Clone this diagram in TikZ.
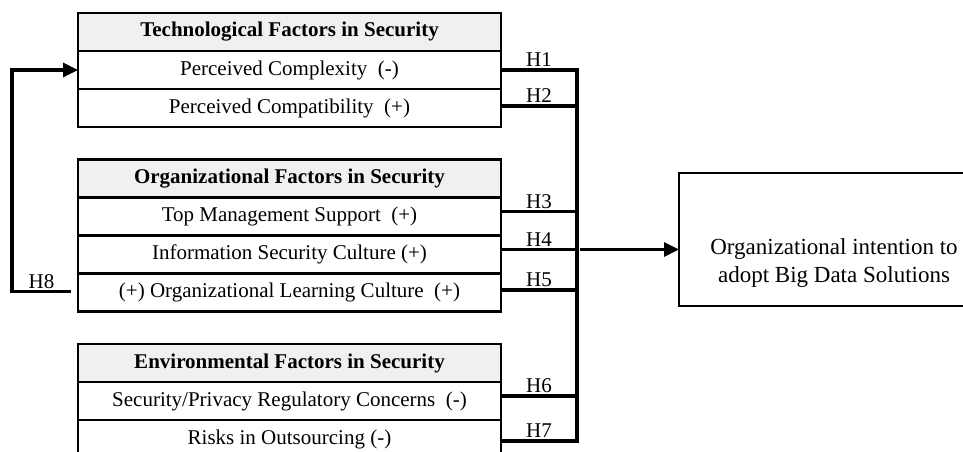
\documentclass[tikz,border=0pt]{standalone}
\usepackage{fontspec}
\setmainfont{Liberation Serif}
\usetikzlibrary{arrows.meta,positioning,calc}

\begin{document}
\begin{tikzpicture}[
  x=1pt, y=-1pt,
  every node/.style={font=\fontsize{21}{28}\selectfont},
  grouphead/.style={draw, line width=2.4pt, fill=gray!12, minimum width=423pt, minimum height=38pt, inner sep=0pt, outer sep=0pt, font=\fontsize{21}{28}\selectfont\bfseries},
  factor/.style={draw, line width=2.4pt, minimum width=423pt, minimum height=38pt, inner sep=0pt, outer sep=0pt},
  goalbox/.style={draw, line width=2.4pt, minimum width=310pt, minimum height=133pt, outer sep=0pt},
  hyp/.style={above, inner sep=1.5pt},
  wire/.style={line width=3.1pt},
  arr/.style={-{Triangle[length=15pt,width=14pt]}, line width=3.1pt}
]
\useasboundingbox (0,0) rectangle (963,452);

\node[grouphead, anchor=north west] (techhead) at (78,13) {Technological Factors in Security};
\node[factor, below=0pt of techhead] (techA) {Perceived Complexity~ (-)};
\node[factor, below=0pt of techA] (techB) {Perceived Compatibility~ (+)};

\node[grouphead, anchor=north west] (orghead) at (78,159.5) {Organizational Factors in Security};
\node[factor, below=0pt of orghead] (orgA) {Top Management Support~ (+)};
\node[factor, below=0pt of orgA] (orgB) {Information Security Culture (+)};
\node[factor, below=0pt of orgB] (orgC) {(+) Organizational Learning Culture~ (+)};

\node[grouphead, anchor=north west] (envhead) at (78,344) {Environmental Factors in Security};
\node[factor, below=0pt of envhead] (envA) {Security/Privacy Regulatory Concerns~ (-)};
\node[factor, below=0pt of envA] (envB) {Risks in Outsourcing (-)};

\node[goalbox, anchor=north west] (goal) at (679,173) {};
\node[align=center, font=\fontsize{23}{28}\selectfont] (goaltext) at ([yshift=-23pt]goal.center) {Organizational intention to\\adopt Big Data Solutions};

% hypotheses into the bus
\coordinate (bus) at (577,0);
\coordinate (s1) at (techA.east);
\coordinate (s2) at ([yshift=2pt]techB.east);
\coordinate (s3) at ([yshift=5pt]orgA.east);
\coordinate (s4) at ([yshift=5pt]orgB.east);
\coordinate (s5) at ([yshift=2.5pt]orgC.east);
\coordinate (s6) at ([yshift=5pt]envA.east);
\coordinate (s7) at ([yshift=-2pt]envB.east);
\coordinate (h4) at (s4 -| bus);

\draw[wire] (s1) -- (s1 -| bus) node[hyp, midway] {H1} -- (s7 -| bus) -- (s7) node[hyp, midway] {H7};
\foreach \s/\h in {2/H2,3/H3,4/H4,5/H5,6/H6}
  \draw[wire] (s\s) -- (s\s -| bus) node[hyp, midway] {\h};

\draw[arr] ([xshift=3pt]h4) -- (h4 -| goal.west);

% feedback
\coordinate (fb) at (12,0);
\coordinate (s8) at ([xshift=-7pt,yshift=1pt]orgC.west);
\draw[arr] (s8) -- (s8 -| fb) node[hyp, midway] {H8} -- (fb |- techA.west) -- (techA.west);

\end{tikzpicture}
\end{document}
